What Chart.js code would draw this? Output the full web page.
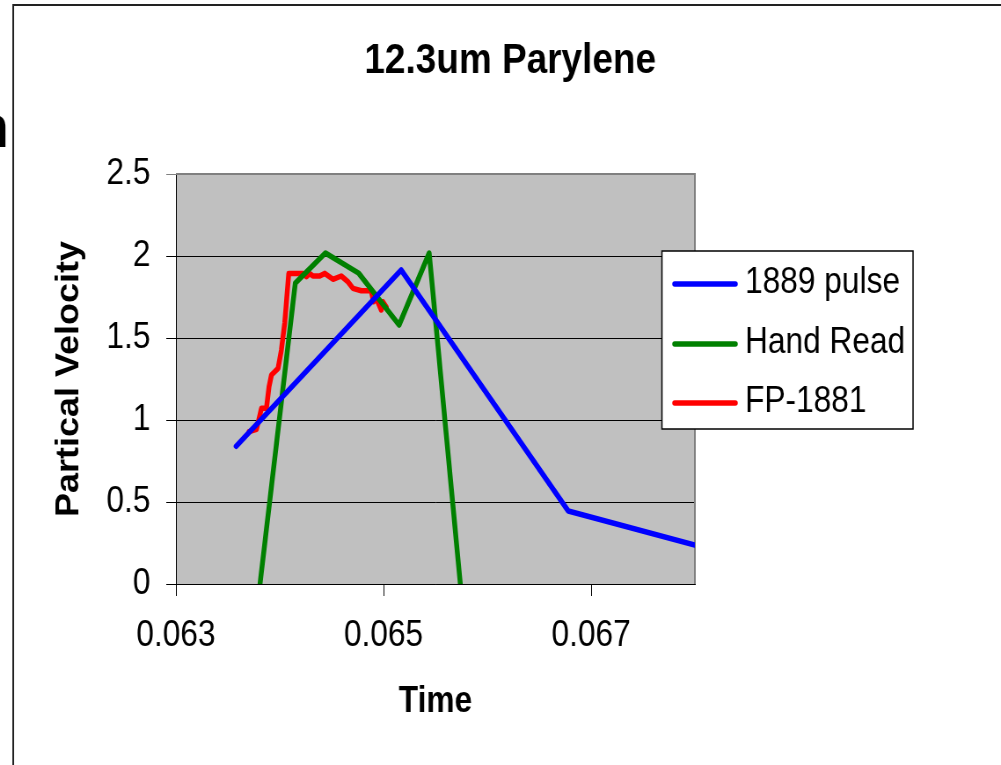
<!DOCTYPE html>
<html>
<head>
<meta charset="utf-8">
<script src="https://cdn.jsdelivr.net/npm/chart.js@4.4.1/dist/chart.umd.min.js"></script>
<style>
  html, body { margin: 0; padding: 0; background: #fff; overflow: hidden; }
  /* chart is laid out wide and squeezed horizontally, like the narrow Excel export */
  #wrap { width: 1138px; height: 765px; transform: scaleX(0.8796); transform-origin: 0 0; }
</style>
</head>
<body>
<div id="wrap"><canvas id="velocityChart" width="1138" height="765"></canvas></div>
<script>
const chartTitle = '12.3um Parylene';
const seriesNames = ['1889 pulse', 'Hand Read', 'FP-1881'];
const seriesColors = ['#0000ff', '#008000', '#ff0000'];

const pulseTime = [0.06358, 0.06517, 0.06678, 0.06800];
const pulseVel = [0.84, 1.915, 0.445, 0.238];

const handTime = [0.06381, 0.06415, 0.06444, 0.06476, 0.06515, 0.06544, 0.06574];
const handVel = [0, 1.835, 2.018, 1.896, 1.579, 2.018, 0];

const fpTime = [0.063705, 0.063776, 0.063824, 0.063872, 0.063897, 0.063920, 0.063984, 0.064016, 0.064048,
  0.064087, 0.064224, 0.064257, 0.064288, 0.064320, 0.064385, 0.064433, 0.064513, 0.064593, 0.064657,
  0.064705, 0.064786, 0.064882, 0.064904, 0.064930, 0.064978, 0.064993, 0.065026];
const fpVel = [0.929, 0.943, 1.071, 1.071, 1.203, 1.274, 1.315, 1.427, 1.591,
  1.894, 1.894, 1.874, 1.894, 1.878, 1.878, 1.894, 1.858, 1.878, 1.843,
  1.803, 1.788, 1.788, 1.721, 1.742, 1.671, 1.721, 1.690];

const xTickValues = [0.063, 0.065, 0.067];
const xTickLabels = ['0.063', '0.065', '0.067'];
const yTickLabels = ['0', '0.5', '1', '1.5', '2', '2.5'];

const FONT = "'Liberation Sans', Arial, sans-serif";

function series(i, xs, ys) {
  return {
    label: seriesNames[i],
    data: xs.map((x, k) => ({ x: x, y: ys[k] })),
    showLine: true,
    borderColor: seriesColors[i],
    backgroundColor: seriesColors[i],
    borderWidth: 5.5,
    borderJoinStyle: 'round',
    borderCapStyle: 'round',
    pointRadius: 0,
    tension: 0,
    clip: 0
  };
}

const decor = {
  id: 'decor',
  beforeDraw(chart) {
    const { ctx, chartArea: a } = chart;
    ctx.save();
    ctx.fillStyle = '#fff';
    ctx.fillRect(0, 0, chart.width, chart.height);
    ctx.fillStyle = '#c0c0c0';
    ctx.fillRect(a.left, a.top, a.right - a.left, a.bottom - a.top);
    ctx.restore();
  },
  beforeDatasetsDraw(chart) {
    // grey top and right edges of the plot area
    const { ctx, chartArea: a } = chart;
    ctx.save();
    ctx.strokeStyle = '#808080';
    ctx.lineWidth = 2;
    ctx.beginPath();
    ctx.moveTo(a.left, a.top);
    ctx.lineTo(a.right, a.top);
    ctx.lineTo(a.right, a.bottom);
    ctx.stroke();
    ctx.restore();
  },
  afterDraw(chart) {
    const ctx = chart.ctx;
    ctx.save();
    // outer frame
    ctx.strokeStyle = '#222';
    ctx.lineWidth = 2;
    ctx.beginPath();
    ctx.moveTo(15, chart.height);
    ctx.lineTo(15, 5);
    ctx.lineTo(chart.width, 5);
    ctx.stroke();

    // letter cut off at the left edge
    ctx.fillStyle = '#000';
    ctx.font = 'bold 60px ' + FONT;
    ctx.textAlign = 'right';
    ctx.textBaseline = 'alphabetic';
    ctx.fillText('n', 10, 147);

    // title
    ctx.font = 'bold 42px ' + FONT;
    ctx.textAlign = 'center';
    ctx.fillText(chartTitle, 580, 73);

    // legend box
    ctx.fillStyle = '#fff';
    ctx.fillRect(752.5, 251, 285.5, 178);
    ctx.strokeStyle = '#000';
    ctx.lineWidth = 1.5;
    ctx.strokeRect(752.5, 251, 285.5, 178);
    const rows = [284, 344, 403];
    ctx.font = '36px ' + FONT;
    ctx.textAlign = 'left';
    chart.data.datasets.forEach((ds, i) => {
      const y = rows[i];
      ctx.strokeStyle = ds.borderColor;
      ctx.lineWidth = 5.5;
      ctx.lineCap = 'round';
      ctx.beginPath();
      ctx.moveTo(767, y);
      ctx.lineTo(836, y);
      ctx.stroke();
      ctx.fillStyle = '#000';
      ctx.fillText(ds.label, 847, y + 9);
    });
    ctx.restore();
  }
};

new Chart(document.getElementById('velocityChart'), {
  type: 'scatter',
  data: {
    datasets: [
      series(0, pulseTime, pulseVel),
      series(1, handTime, handVel),
      series(2, fpTime, fpVel)
    ]
  },
  options: {
    responsive: false,
    animation: false,
    devicePixelRatio: 1,
    layout: { padding: { left: 0, right: 348, top: 174, bottom: 0 } },
    plugins: {
      legend: { display: false },
      tooltip: { enabled: false },
      title: { display: false }
    },
    scales: {
      x: {
        type: 'linear',
        min: 0.063,
        max: 0.068,
        afterBuildTicks: s => { s.ticks = xTickValues.map(v => ({ value: v })); },
        afterFit: s => { s.height = 181; },
        grid: { drawOnChartArea: false, drawTicks: true, tickLength: 12, color: '#000' },
        border: { color: '#000', width: 1 },
        ticks: {
          color: '#000',
          font: { family: FONT, size: 36 },
          padding: 18,
          maxRotation: 0,
          autoSkip: false,
          callback: (v, i) => xTickLabels[i]
        },
        title: {
          display: true,
          text: 'Time',
          color: '#000',
          font: { family: FONT, size: 36, weight: 'bold' },
          padding: { top: 0, bottom: 41 }
        }
      },
      y: {
        min: 0,
        max: 2.5,
        afterFit: s => { s.width = 200; },
        grid: {
          color: c => (c.tick && c.tick.value === 2.5 ? '#808080' : '#000'),
          lineWidth: 1,
          tickLength: 11
        },
        border: { color: '#000', width: 1 },
        ticks: {
          stepSize: 0.5,
          color: '#000',
          font: { family: FONT, size: 36 },
          padding: 18,
          callback: (v, i) => yTickLabels[i]
        },
        title: {
          display: true,
          text: 'Partical Velocity',
          color: '#000',
          font: { family: FONT, size: 36, weight: 'bold' },
          padding: { top: 57, bottom: 0 }
        }
      }
    }
  },
  plugins: [decor]
});
</script>
</body>
</html>
